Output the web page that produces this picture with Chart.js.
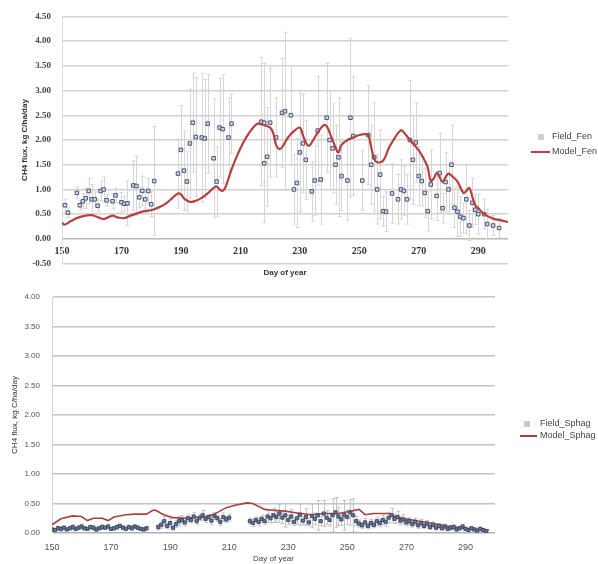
<!DOCTYPE html>
<html>
<head>
<meta charset="utf-8">
<script src="https://cdn.jsdelivr.net/npm/chart.js@4.4.1/dist/chart.umd.min.js"></script>
<style>
  html, body { margin: 0; padding: 0; background: #fff; overflow: hidden; }
  #fenChart { position: absolute; left: 0; top: 0; }
  #sphagChart { position: absolute; left: 0; top: 280px; }
</style>
</head>
<body>
<canvas id="fenChart" width="598" height="280"></canvas>
<canvas id="sphagChart" width="598" height="284"></canvas>
<script>
// ---- data ----
const xTicks = [150, 170, 190, 210, 230, 250, 270, 290];

// Fen: field measurements (mean and half error bar)
const fenDays = [151,152,155,156,157,158,159,160,161,162,163,164,165,167,168,170,171,172,174,175,176,177,178,179,180,181,
  189,190,191,192,193,194,195,197,198,199,201,202,203,204,206,207,217,218,218,219,220,222,224,225,227,
  228,229,230,231,232,234,235,236,237,239,240,241,242,243,244,246,247,248,251,253,254,255,256,257,258,259,261,263,264,
  265,266,267,268,269,270,271,272,273,274,276,277,278,279,280,281,282,283,284,285,286,287,288,289,290,292,293,295,297];
const fenFlux = [0.68,0.53,0.93,0.68,0.76,0.82,0.97,0.80,0.80,0.67,0.97,1.00,0.78,0.76,0.88,0.74,0.71,0.72,1.08,1.07,0.84,0.97,0.80,0.97,0.70,1.17,
  1.32,1.80,1.38,1.16,1.93,2.35,2.06,2.05,2.03,2.33,1.63,1.16,2.25,2.22,2.05,2.33,2.37,2.35,1.53,1.66,2.35,2.05,2.55,2.58,2.50,
  1.00,1.13,1.75,1.93,1.60,0.96,1.18,2.19,1.20,2.45,2.00,1.83,1.50,1.65,1.27,1.18,2.45,2.08,1.18,2.10,1.50,1.65,1.00,1.30,0.56,0.55,0.92,0.80,1.00,
  0.97,0.80,2.00,1.60,1.95,1.27,1.17,0.93,0.56,1.10,0.87,1.33,0.62,1.15,1.00,1.50,0.63,0.55,0.45,0.42,0.80,0.27,0.73,0.59,0.50,0.50,0.30,0.27,0.22];
const fenErr = [0.12,0.10,0.12,0.10,0.15,0.20,0.25,0.30,0.15,0.12,0.20,0.25,0.12,0.15,0.15,0.20,0.15,0.45,0.50,0.60,0.20,0.30,0.20,0.25,0.25,1.10,
  0.70,0.90,0.80,0.60,1.10,1.00,1.20,1.30,1.20,1.00,1.20,0.70,1.00,1.10,0.80,0.60,1.30,1.20,1.20,1.00,1.10,0.80,1.10,1.60,1.00,
  0.70,0.90,1.20,1.00,0.80,0.60,0.70,1.10,0.90,1.10,1.00,0.90,0.80,1.20,0.70,0.80,1.60,1.20,0.60,1.00,0.80,1.10,0.70,0.90,0.30,0.40,0.60,0.50,0.60,
  0.50,0.50,1.20,0.90,0.80,0.60,0.50,0.50,0.40,0.70,0.50,0.80,0.30,0.60,0.50,0.80,0.40,0.50,0.40,0.30,0.70,0.30,0.50,0.30,0.40,0.30,0.30,0.20,0.20];

// Fen: model
const fenModelDays = [150,151,153,155,158,160,162,164,166,167,169,171,173,175,177,179,181,183,185,187,189,190,191,193,195,197,199,201,202,203,204,205,
  207,209,211,213,215,216,218,220,221,222,223,224,226,228,230,231,232,233,234,236,238,239,240,242,243,244,246,248,250,252,253,254,255,256,258,
  260,262,264,265,267,270,272,273,274,275,276,277,278,279,280,281,283,285,286,287,288,289,290,292,295,298,300];
const fenModelFlux = [0.32,0.29,0.36,0.42,0.47,0.48,0.44,0.40,0.45,0.47,0.43,0.42,0.47,0.51,0.55,0.57,0.60,0.65,0.72,0.82,0.92,0.90,0.82,0.75,0.77,0.83,0.92,1.03,1.06,1.00,0.97,1.05,
  1.40,1.70,1.95,2.15,2.30,2.33,2.30,2.25,2.15,1.90,1.82,1.85,2.05,2.18,2.25,2.10,1.95,1.88,1.95,2.15,2.30,2.28,2.15,1.85,1.75,1.90,2.00,2.05,2.10,2.12,2.10,1.85,1.62,1.55,1.58,
  1.85,2.05,2.20,2.15,2.00,1.79,1.58,1.45,1.17,1.22,1.33,1.25,1.15,1.25,1.32,1.28,1.16,0.93,0.97,1.03,0.85,0.68,0.62,0.50,0.41,0.37,0.34];

// Sphagnum: field measurements
const sphagDays = [150,151,152,153,154,155,156,157,158,159,160,161,162,163,164,165,166,167,168,169,170,171,172,173,174,175,176,177,178,179,180,181,182,
  186,187,188,189,190,191,192,193,194,195,
  196,197,198,199,200,201,202,203,204,205,206,207,208,209,210,
  217,218,219,220,221,222,223,224,225,226,
  227,228,229,230,231,232,233,234,235,236,237,238,239,240,241,242,243,244,245,246,247,
  248,249,250,251,252,253,254,255,256,257,258,259,260,261,262,263,264,265,266,267,268,269,270,
  271,272,273,274,275,276,277,278,279,280,281,282,283,284,285,286,287,288,289,290,291,292,293,294,295,296,297];
const sphagFlux = [0.06,0.05,0.08,0.07,0.09,0.06,0.08,0.10,0.07,0.09,0.11,0.08,0.07,0.10,0.09,0.06,0.08,0.10,0.09,0.11,0.07,0.08,0.10,0.12,0.09,0.07,0.10,0.08,0.11,0.09,0.07,0.06,0.08,
  0.10,0.14,0.20,0.12,0.17,0.09,0.15,0.20,0.22,0.18,
  0.25,0.22,0.28,0.20,0.26,0.30,0.24,0.27,0.21,0.29,0.25,0.19,0.27,0.23,0.26,
  0.20,0.17,0.22,0.19,0.24,0.20,0.28,0.25,0.30,0.27,
  0.33,0.26,0.30,0.22,0.28,0.19,0.25,0.31,0.21,0.27,0.18,0.29,0.24,0.30,0.20,0.33,0.26,0.22,0.30,0.35,0.28,
  0.23,0.30,0.27,0.35,0.30,0.20,0.16,0.13,0.18,0.12,0.17,0.14,0.20,0.17,0.22,0.19,0.26,0.30,0.24,0.27,0.21,0.23,0.18,
  0.20,0.15,0.19,0.13,0.17,0.12,0.16,0.10,0.14,0.09,0.12,0.08,0.11,0.07,0.09,0.10,0.06,0.08,0.11,0.07,0.05,0.08,0.06,0.04,0.07,0.05,0.03];
const sphagErr = [0.03,0.02,0.03,0.04,0.03,0.02,0.03,0.04,0.03,0.03,0.04,0.03,0.02,0.03,0.04,0.03,0.03,0.04,0.03,0.03,0.02,0.03,0.04,0.03,0.03,0.02,0.03,0.04,0.03,0.03,0.02,0.03,0.03,
  0.05,0.06,0.08,0.05,0.07,0.04,0.06,0.08,0.07,0.06,
  0.06,0.05,0.07,0.06,0.05,0.08,0.06,0.05,0.07,0.06,0.05,0.06,0.07,0.05,0.06,
  0.05,0.06,0.05,0.07,0.06,0.05,0.10,0.08,0.12,0.09,
  0.15,0.10,0.20,0.08,0.12,0.06,0.10,0.18,0.07,0.14,0.06,0.20,0.10,0.25,0.08,0.22,0.12,0.10,0.28,0.25,0.15,
  0.10,0.25,0.12,0.22,0.28,0.08,0.06,0.05,0.07,0.05,0.06,0.05,0.07,0.06,0.08,0.07,0.09,0.12,0.08,0.10,0.07,0.08,0.06,
  0.06,0.05,0.06,0.05,0.06,0.04,0.05,0.04,0.05,0.04,0.04,0.03,0.04,0.03,0.04,0.04,0.03,0.03,0.04,0.03,0.02,0.03,0.03,0.02,0.03,0.02,0.02];

// Sphagnum: model
const sphagModelDays = [150,153,157,160,162,164,167,169,171,175,178,182,184,185,187,189,191,195,198,202,205,209,212,216,218,222,224,229,233,238,242,247,251,254,256,259,264,267,272,278,284,290,295,298];
const sphagModelFlux = [0.14,0.24,0.29,0.28,0.21,0.25,0.25,0.21,0.27,0.31,0.32,0.32,0.38,0.39,0.33,0.29,0.26,0.25,0.26,0.27,0.32,0.43,0.47,0.51,0.50,0.40,0.39,0.37,0.34,0.31,0.33,0.33,0.37,0.40,0.31,0.33,0.33,0.26,0.22,0.17,0.12,0.08,0.06,0.05];

// ---- helpers ----
function pts(xs, ys) { return xs.map((x, i) => ({ x: x, y: ys[i] })); }

// vertical error bars with small caps, drawn behind the markers
const errorBars = {
  id: 'errorBars',
  beforeDatasetsDraw(chart) {
    const ctx = chart.ctx, yScale = chart.scales.y, area = chart.chartArea;
    ctx.save();
    ctx.beginPath();
    ctx.rect(area.left, area.top, area.right - area.left, area.bottom - area.top);
    ctx.clip();
    chart.data.datasets.forEach((ds, di) => {
      if (!ds.errors) return;
      const meta = chart.getDatasetMeta(di);
      ctx.strokeStyle = ds.errorColor;
      ctx.lineWidth = 1;
      meta.data.forEach((el, i) => {
        const v = ds.data[i].y, e = ds.errors[i];
        const x = Math.round(el.x) + 0.5;
        const yHi = yScale.getPixelForValue(v + e), yLo = yScale.getPixelForValue(v - e);
        ctx.beginPath();
        ctx.moveTo(x, yHi); ctx.lineTo(x, yLo);
        ctx.moveTo(x - 2, yHi); ctx.lineTo(x + 2, yHi);
        ctx.moveTo(x - 2, yLo); ctx.lineTo(x + 2, yLo);
        ctx.stroke();
      });
    });
    ctx.restore();
  }
};

// legend at the right side, partly running off the canvas like the original
const sideLegend = {
  id: 'sideLegend',
  afterDraw(chart, args, opts) {
    const ctx = chart.ctx;
    ctx.save();
    ctx.font = opts.font;
    ctx.textBaseline = 'middle';
    chart.data.datasets.forEach(ds => {
      const y = opts.rows[ds.legendRow];
      if (ds.showLine) {
        ctx.strokeStyle = ds.borderColor;
        ctx.lineWidth = 2;
        ctx.beginPath();
        ctx.moveTo(opts.lineFrom, y); ctx.lineTo(opts.lineTo, y);
        ctx.stroke();
      } else {
        ctx.fillStyle = opts.markerColor;
        ctx.fillRect(opts.markerX - 3, y - 3, 6, 6);
      }
      ctx.fillStyle = '#444';
      ctx.fillText(ds.label, opts.textX, y);
    });
    ctx.restore();
  }
};

function yTitle(text, bold, pad) {
  return { display: true, text: text, color: '#333', padding: { top: pad, bottom: 0 },
    font: { family: 'Liberation Sans, Arial, sans-serif', size: 8, weight: bold ? 'bold' : 'normal' } };
}

// ---- top chart: fen ----
new Chart(document.getElementById('fenChart'), {
  type: 'scatter',
  data: {
    datasets: [
      {
        label: 'Field_Fen', legendRow: 0, order: 1,
        data: pts(fenDays, fenFlux), errors: fenErr, errorColor: '#d6d6d6',
        pointStyle: 'rect', pointRadius: 2.5,
        backgroundColor: '#d2d9e6', borderColor: '#465679', borderWidth: 1
      },
      {
        label: 'Model_Fen', legendRow: 1, order: 0,
        data: pts(fenModelDays, fenModelFlux), showLine: true, pointRadius: 0,
        borderColor: '#b5403f', borderWidth: 2.2, tension: 0.4
      }
    ]
  },
  options: {
    responsive: false, animation: false, devicePixelRatio: 1,
    layout: { padding: { top: 14, right: 90, bottom: 0, left: 0 } },
    plugins: {
      legend: { display: false }, tooltip: { enabled: false },
      sideLegend: { font: '9px "Liberation Sans", Arial, sans-serif', rows: [137, 152], markerX: 541, markerColor: '#cfcfcf', lineFrom: 531, lineTo: 550, textX: 552 }
    },
    scales: {
      x: {
        type: 'linear', min: 150, max: 300,
        afterBuildTicks: s => { s.ticks = xTicks.map(v => ({ value: v })); },
        afterFit: s => { s.height = 15; },
        grid: { display: false }, border: { display: false },
        // labels sit just under the zero line, inside the plot (mirror avoids label clipping)
        ticks: { mirror: true, padding: 6, color: '#333', font: { family: 'Liberation Serif, serif', size: 10, weight: 'bold' } },
        title: { display: true, text: 'Day of year', color: '#333', padding: { top: 0, bottom: 1 },
          font: { family: 'Liberation Sans, Arial, sans-serif', size: 8, weight: 'bold' } }
      },
      y: {
        min: -0.5, max: 4.5,
        afterFit: s => { s.width = 62; },
        ticks: { stepSize: 0.5, padding: 11, color: '#444', callback: v => v.toFixed(2),
          font: { family: 'Liberation Serif, serif', size: 9, weight: 'bold' } },
        grid: { drawTicks: false, lineWidth: 1.5, color: c => c.tick.value === 0 ? '#b8b8b8' : '#d2d2d2' },
        border: { color: '#dcdcdc' },
        title: yTitle('CH4 flux, kg C/ha/day', true, 20)
      }
    }
  },
  plugins: [errorBars, sideLegend]
});

// ---- bottom chart: sphagnum ----
new Chart(document.getElementById('sphagChart'), {
  type: 'scatter',
  data: {
    datasets: [
      {
        label: 'Field_Sphag', legendRow: 0, order: 0,
        data: pts(sphagDays, sphagFlux), errors: sphagErr, errorColor: '#c4c4c4',
        pointStyle: 'rect', pointRadius: 2.2,
        backgroundColor: '#6b7895', borderColor: '#3a4868', borderWidth: 1
      },
      {
        label: 'Model_Sphag', legendRow: 1, order: 1,
        data: pts(sphagModelDays, sphagModelFlux), showLine: true, pointRadius: 0,
        borderColor: '#a8403f', borderWidth: 1.6, tension: 0
      }
    ]
  },
  options: {
    responsive: false, animation: false, devicePixelRatio: 1,
    layout: { padding: { top: 17, right: 103, bottom: 0, left: 0 } },
    plugins: {
      legend: { display: false }, tooltip: { enabled: false },
      sideLegend: { font: '9px "Liberation Sans", Arial, sans-serif', rows: [144, 156], markerX: 527, markerColor: '#c8c8c8', lineFrom: 520, lineTo: 537, textX: 540 }
    },
    scales: {
      x: {
        type: 'linear', min: 150, max: 300,
        afterBuildTicks: s => { s.ticks = xTicks.map(v => ({ value: v })); },
        afterFit: s => { s.height = 31; },
        grid: { display: false }, border: { display: false },
        ticks: { padding: 1, color: '#555', font: { family: 'Liberation Sans, Arial, sans-serif', size: 9 } },
        title: { display: true, text: 'Day of year', color: '#444', padding: { top: 0, bottom: 0 },
          font: { family: 'Liberation Sans, Arial, sans-serif', size: 8 } }
      },
      y: {
        min: 0, max: 4,
        afterFit: s => { s.width = 52; },
        ticks: { stepSize: 0.5, padding: 12, color: '#555', callback: v => v.toFixed(2),
          font: { family: 'Liberation Sans, Arial, sans-serif', size: 8 } },
        grid: { drawTicks: false, lineWidth: 1.5, color: c => c.tick.value === 0 ? '#b0b0b0' : '#c4c4c4' },
        border: { color: '#d4d4d4' },
        title: yTitle('CH4 flux, kg C/ha/day', false, 10)
      }
    }
  },
  plugins: [errorBars, sideLegend]
});
</script>
</body>
</html>
